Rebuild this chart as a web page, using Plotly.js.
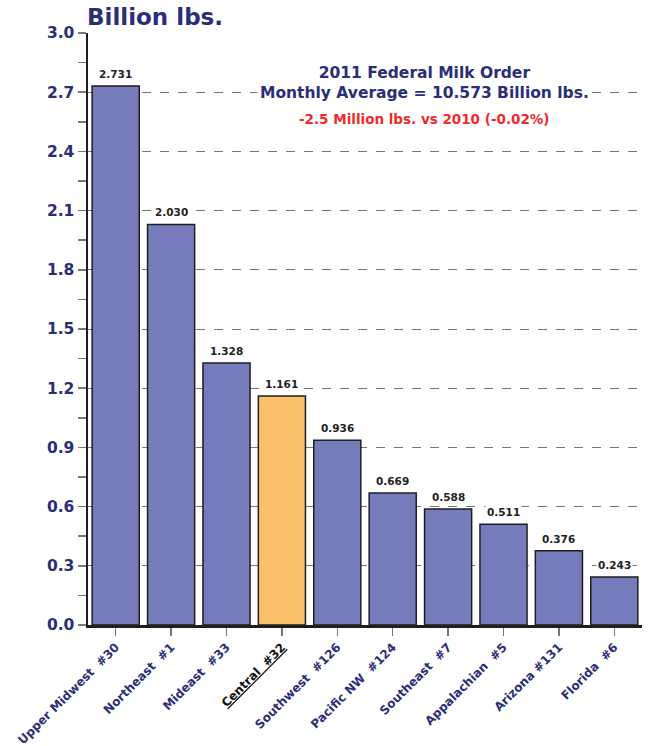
<!DOCTYPE html>
<html>
<head>
<meta charset="utf-8">
<script src="https://cdn.plot.ly/plotly-3.0.1.min.js"></script>
<style>html,body{margin:0;padding:0;background:#fff;}#chart{width:652px;height:746px;}</style>
</head>
<body>
<div id="chart"></div>
<script>
const categories = ["Upper Midwest  #30","Northeast  #1","Mideast  #33","Central  #32","Southwest  #126","Pacific NW  #124","Southeast  #7","Appalachian  #5","Arizona #131","Florida  #6"];
const values = [2.731, 2.030, 1.328, 1.161, 0.936, 0.669, 0.588, 0.511, 0.376, 0.243];
const labels = ["2.731","2.030","1.328","1.161","0.936","0.669","0.588","0.511","0.376","0.243"];
const highlight = "Central  #32";
const yTickVals = [0,0.3,0.6,0.9,1.2,1.5,1.8,2.1,2.4,2.7,3.0];
const yTickText = ["0.0","0.3","0.6","0.9","1.2","1.5","1.8","2.1","2.4","2.7","3.0"];

const navy = "#2a2d78";
const font = "'DejaVu Sans', Arial, sans-serif";
const colors = categories.map(c => c === highlight ? "#fdc06a" : "#767bbb");
const tickText = categories.map(c => c === highlight ? '<span style="color:#111"><u>' + c + '</u></span>' : c);

const trace = {
  type: "bar",
  x: categories,
  y: values,
  marker: {color: colors, line: {color: "#1e1e1e", width: 1.5}},
  hoverinfo: "none"
};

const annotations = values.map((v, i) => ({
  x: categories[i], y: v, xref: "x", yref: "y",
  text: "<b>" + labels[i] + "</b>",
  showarrow: false, yanchor: "bottom", yshift: 4,
  font: {family: font, size: 10.5, color: "#222"},
  bgcolor: "#fff", borderpad: 1
}));
annotations.push({
  xref: "paper", yref: "y", x: 0.608, y: 2.748,
  text: "<b>2011 Federal Milk Order<br>Monthly Average = 10.573 Billion lbs.</b>",
  showarrow: false, xanchor: "center", yanchor: "middle",
  font: {family: font, size: 15.5, color: navy},
  bgcolor: "#fff", borderpad: 2
});
annotations.push({
  xref: "paper", yref: "y", x: 0.608, y: 2.565,
  text: "<b>-2.5 Million lbs. vs 2010 (-0.02%)</b>",
  showarrow: false, xanchor: "center", yanchor: "middle",
  font: {family: font, size: 13.5, color: "#ee2b2b"}
});
annotations.push({
  xref: "paper", yref: "paper", x: -0.005, y: 1.0, yshift: 1,
  text: "<b>Billion lbs.</b>",
  showarrow: false, xanchor: "left", yanchor: "bottom",
  font: {family: font, size: 23, color: navy}
});

const layout = {
  width: 652, height: 746,
  margin: {l: 88, r: 10, t: 33, b: 121},
  paper_bgcolor: "#fff", plot_bgcolor: "#fff",
  bargap: 0.15,
  showlegend: false,
  xaxis: {
    tickvals: categories, ticktext: tickText, tickangle: -45,
    tickfont: {family: font, size: 12, color: navy, weight: "bold"},
    ticks: "outside", ticklen: 8, tickcolor: "#777", tickwidth: 1.5,
    showline: true, linecolor: "#1e1e1e", linewidth: 2.5,
    showgrid: false, zeroline: false, fixedrange: true
  },
  yaxis: {
    range: [0, 3.0], tickvals: yTickVals, ticktext: yTickText,
    tickfont: {family: font, size: 15.5, color: navy, weight: "bold"},
    ticks: "outside", ticklen: 8, tickcolor: "#777", tickwidth: 1.5,
    minor: {dtick: 0.15, tick0: 0, ticks: "outside", ticklen: 8, tickcolor: "#777", tickwidth: 1.5, showgrid: false},
    showline: true, linecolor: "#1e1e1e", linewidth: 2.5,
    showgrid: true, gridcolor: "#555", griddash: "dash", gridwidth: 0.8,
    zeroline: false, fixedrange: true
  },
  annotations: annotations
};

Plotly.newPlot("chart", [trace], layout, {displayModeBar: false, staticPlot: true});
</script>
</body>
</html>
